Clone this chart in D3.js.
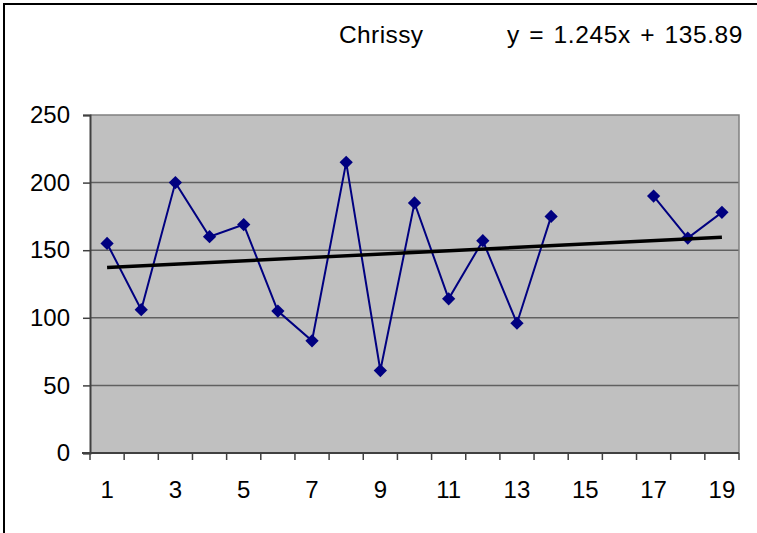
<!DOCTYPE html>
<html>
<head>
<meta charset="utf-8">
<script src="https://cdn.jsdelivr.net/npm/d3@7"></script>
<style>
  html, body { margin: 0; padding: 0; background: #fff; }
  svg { display: block; font-family: "Liberation Sans", Arial, sans-serif; }
</style>
</head>
<body>
<svg id="chart" width="757" height="533"></svg>
<script>
// Chart data
const categories = d3.range(1, 20);                 // x positions 1..19
const seriesX = [1, 2, 3, 4, 5, 6, 7, 8, 9, 10, 11, 12, 13, 14, 17, 18, 19];
const seriesY = [155, 106, 200, 160, 169, 105, 83, 215, 61, 185, 114, 157, 96, 175, 190, 159, 178];
const yTicks = [0, 50, 100, 150, 200, 250];
const xTickLabels = [1, 3, 5, 7, 9, 11, 13, 15, 17, 19];
const seriesName = "Chrissy";
const trendSlope = 1.245;
const trendIntercept = 135.89;
const trendLabel = "y = 1.245x + 135.89";

const svg = d3.select("#chart");
const W = 757, H = 533;
const plot = { left: 90, right: 739, top: 115, bottom: 453 };

// Outer chart frame (extends past the right/bottom edge)
svg.append("rect")
  .attr("x", 4).attr("y", 4)
  .attr("width", W + 10).attr("height", H + 10)
  .attr("fill", "#fff").attr("stroke", "#000").attr("stroke-width", 2);

const x = d3.scaleBand().domain(categories).range([plot.left, plot.right]).padding(0);
const y = d3.scaleLinear().domain([0, 250]).range([plot.bottom, plot.top]);
const cx = v => x(v) + x.bandwidth() / 2;

// Plot area background
svg.append("rect")
  .attr("x", plot.left).attr("y", plot.top)
  .attr("width", plot.right - plot.left).attr("height", plot.bottom - plot.top)
  .attr("fill", "#c0c0c0");

// Horizontal gridlines
svg.append("g").selectAll("line")
  .data(yTicks.filter(t => t > 0 && t < 250))
  .join("line")
  .attr("x1", plot.left).attr("x2", plot.right)
  .attr("y1", d => y(d)).attr("y2", d => y(d))
  .attr("stroke", "#606060").attr("stroke-width", 1.5);

// Plot border (top and right)
svg.append("path")
  .attr("d", `M${plot.left},${plot.top}H${plot.right}V${plot.bottom}`)
  .attr("fill", "none").attr("stroke", "#808080").attr("stroke-width", 1.5);

// Y axis
const yAxis = svg.append("g")
  .attr("transform", `translate(${plot.left},0)`)
  .call(d3.axisLeft(y).tickValues(yTicks).tickSize(7).tickPadding(13).tickFormat(d3.format("d")));
yAxis.select(".domain").attr("stroke", "#404040").attr("stroke-width", 2);
yAxis.selectAll(".tick line").attr("stroke", "#404040").attr("stroke-width", 1.5);
yAxis.selectAll(".tick text")
  .attr("fill", "#000").attr("font-size", 24).attr("font-family", "Liberation Sans, Arial, sans-serif");

// X axis: tick marks sit between categories, labels on odd values
const xAxisG = svg.append("g").attr("transform", `translate(0,${plot.bottom})`);
xAxisG.append("line")
  .attr("x1", plot.left - 8).attr("x2", plot.right)
  .attr("stroke", "#404040").attr("stroke-width", 2);
const tickEdges = categories.map(c => x(c)).concat([plot.right]);
xAxisG.selectAll("line.tk")
  .data(tickEdges)
  .join("line").attr("class", "tk")
  .attr("x1", d => d).attr("x2", d => d)
  .attr("y1", 0).attr("y2", 7)
  .attr("stroke", "#404040").attr("stroke-width", 1.5);
xAxisG.selectAll("text")
  .data(xTickLabels)
  .join("text")
  .attr("x", d => cx(d)).attr("y", 45)
  .attr("text-anchor", "middle")
  .attr("font-size", 24)
  .attr("fill", "#000")
  .text(d => d);

// Series line, broken where values are missing
const pts = seriesX.map((v, i) => ({ x: v, y: seriesY[i] }));
const segments = [];
pts.forEach((p, i) => {
  if (i === 0 || p.x - pts[i - 1].x > 1) segments.push([]);
  segments[segments.length - 1].push(p);
});
const line = d3.line().x(d => cx(d.x)).y(d => y(d.y));
svg.append("g").selectAll("path")
  .data(segments)
  .join("path")
  .attr("d", line)
  .attr("fill", "none").attr("stroke", "#000080").attr("stroke-width", 2);

// Diamond markers
const diamond = d3.symbol().type(d3.symbolSquare).size(88);
svg.append("g").selectAll("path")
  .data(pts)
  .join("path")
  .attr("d", diamond)
  .attr("transform", d => `translate(${cx(d.x)},${y(d.y)}) rotate(45)`)
  .attr("fill", "#000080");

// Linear trendline
const tx0 = categories[0], tx1 = categories[categories.length - 1];
svg.append("line")
  .attr("x1", cx(tx0)).attr("y1", y(trendSlope * tx0 + trendIntercept))
  .attr("x2", cx(tx1)).attr("y2", y(trendSlope * tx1 + trendIntercept))
  .attr("stroke", "#000").attr("stroke-width", 3.5);

// Series name and trendline equation
svg.append("text")
  .attr("x", 339).attr("y", 43)
  .attr("font-size", 24.5).attr("letter-spacing", 0.4)
  .text(seriesName);
svg.append("text")
  .attr("x", 507).attr("y", 43)
  .attr("font-size", 24.5).attr("letter-spacing", 0.6).attr("word-spacing", 2)
  .text(trendLabel);
</script>
</body>
</html>
